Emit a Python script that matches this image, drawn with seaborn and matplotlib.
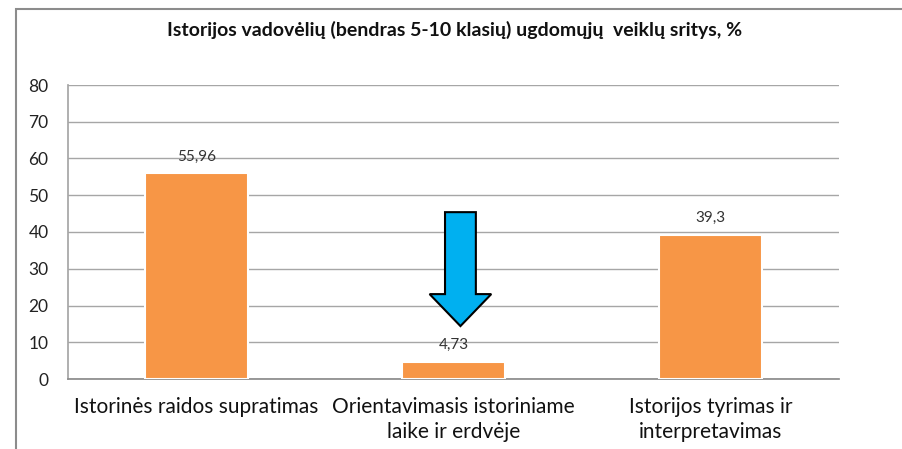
import matplotlib
matplotlib.use("Agg")
import matplotlib.pyplot as plt
from matplotlib.patches import FancyArrow, Rectangle
import pandas as pd
import seaborn as sns

# data
categories = ["Istorinės raidos supratimas",
              "Orientavimasis istoriniame\nlaike ir erdvėje",
              "Istorijos tyrimas ir\ninterpretavimas"]
values = [55.96, 4.73, 39.3]
value_labels = ["55,96", "4,73", "39,3"]
title = "Istorijos vadovėlių (bendras 5-10 klasių) ugdomųjų  veiklų sritys, %"

# arrow pointing at the middle bar (data units)
arrow_x = 1.027
arrow_top = 45.4
arrow_tip = 14.4

sns.set_theme(style="white")
plt.rcParams["font.family"] = ["Lato", "DejaVu Sans"]

df = pd.DataFrame({"cat": categories, "val": values})

fig = plt.figure(figsize=(9.03, 4.49), dpi=100)
ax = fig.add_axes([68 / 903, 1 - 379 / 449, (839 - 68) / 903, (379 - 85) / 449])

sns.barplot(data=df, x="cat", y="val", color="#F79646", saturation=1,
            width=0.4, edgecolor="white", linewidth=1.5, ax=ax, zorder=3)

ax.set_ylim(0, 80)
ax.set_yticks(range(0, 81, 10))
ax.yaxis.grid(True, color="#a6a6a6", linewidth=1, zorder=0)
ax.set_axisbelow(True)
ax.set_xlabel("")
ax.set_ylabel("")
ax.tick_params(axis="y", length=0, pad=14, labelsize=12.5, labelcolor="#222222")
ax.tick_params(axis="x", length=0, pad=13, labelsize=15, labelcolor="#111111")
for t in ax.get_xticklabels():
    t.set_linespacing(1.3)
for s in ["top", "right"]:
    ax.spines[s].set_visible(False)
ax.spines["left"].set_color("#a6a6a6")
ax.spines["bottom"].set_color("#8c8c8c")

for i, (v, lab) in enumerate(zip(values, value_labels)):
    ax.annotate(lab, (i, v), xytext=(0, 7), textcoords="offset points",
                ha="center", va="bottom", fontsize=11, color="#333333")

ax.add_patch(FancyArrow(arrow_x, arrow_top, 0, arrow_tip - arrow_top,
                        width=0.12, head_width=0.24, head_length=8.7,
                        length_includes_head=True, facecolor="#00B0F0",
                        edgecolor="black", linewidth=1.5, zorder=5))

fig.text(455 / 903, 1 - 30 / 449, title, ha="center", va="center",
         fontsize=14, fontweight="bold", color="#111111")

# outer chart border
fig.add_artist(Rectangle((16 / 903, -0.1), 1.2, 1 - 9 / 449 + 0.1,
                         transform=fig.transFigure, fill=False,
                         edgecolor="#8c8c8c", linewidth=1.5))

fig.savefig("out.png", dpi=100)
